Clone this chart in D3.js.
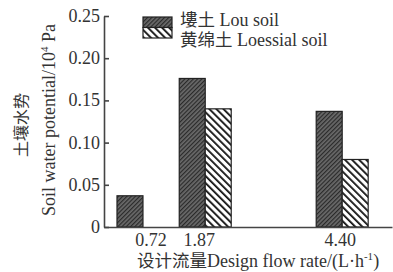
<!DOCTYPE html>
<html>
<head>
<meta charset="utf-8">
<script src="https://cdn.jsdelivr.net/npm/d3@7"></script>
<style>
  body { margin: 0; background: #fff; }
  svg { display: block; }
  text { font-family: "Liberation Serif", "Times New Roman", serif; fill: #333; }
  .cjk { font-family: "Noto Sans CJK SC", sans-serif; }
</style>
</head>
<body>
<svg id="chart" width="393" height="272"></svg>
<script>
// chart data
var flowRates = [0.72, 1.87, 4.40];
var flowLabels = ['0.72', '1.87', '4.40'];
var louSoil = [0.037, 0.176, 0.137];
var loessialSoil = [null, 0.140, 0.080];
var yTicks = [0, 0.05, 0.10, 0.15, 0.20, 0.25];
var yTickLabels = ['0', '0.05', '0.10', '0.15', '0.20', '0.25'];
var seriesNames = ['塿土', '黄绵土'];
var seriesNamesEn = ['Lou soil', 'Loessial soil'];

var svg = d3.select('#chart');
var axisColor = '#444';
var barW = 0.48; // bar width in flow units

var x = d3.scaleLinear().domain([0, 5.32]).range([104, 392]);
var y = d3.scaleLinear().domain([0, 0.25]).range([227, 16]);

// patterns
var defs = svg.append('defs');
var p1 = defs.append('pattern').attr('id', 'pLou')
  .attr('patternUnits', 'userSpaceOnUse').attr('width', 3).attr('height', 3)
  .attr('patternTransform', 'rotate(45)');
p1.append('rect').attr('width', 3).attr('height', 3).attr('fill', '#6a6a6a');
p1.append('rect').attr('width', 1.2).attr('height', 3).attr('fill', '#2a2a2a');
var p2 = defs.append('pattern').attr('id', 'pLoe')
  .attr('patternUnits', 'userSpaceOnUse').attr('width', 5).attr('height', 5)
  .attr('patternTransform', 'rotate(-45)');
p2.append('rect').attr('width', 5).attr('height', 5).attr('fill', '#fff');
p2.append('rect').attr('width', 1.8).attr('height', 5).attr('fill', '#111');

// bars
var bars = [];
flowRates.forEach(function(f, i) {
  bars.push({x0: f - barW, v: louSoil[i], fill: 'url(#pLou)'});
  if (loessialSoil[i] != null) bars.push({x0: f, v: loessialSoil[i], fill: 'url(#pLoe)'});
});
svg.append('g').selectAll('rect').data(bars).enter().append('rect')
  .attr('x', function(d) { return x(d.x0); })
  .attr('width', function(d) { return x(d.x0 + barW) - x(d.x0); })
  .attr('y', function(d) { return y(d.v); })
  .attr('height', function(d) { return y(0) - y(d.v); })
  .attr('fill', function(d) { return d.fill; })
  .attr('stroke', '#222').attr('stroke-width', 1.2);

// y axis, ticks pointing in
var yAxis = d3.axisRight(y).tickValues(yTicks).tickSize(5).tickSizeOuter(0).tickFormat('');
var gy = svg.append('g').attr('transform', 'translate(' + x(0) + ',0)').call(yAxis);
gy.selectAll('path, line').attr('stroke', axisColor).attr('stroke-width', 1.6);
svg.append('g').selectAll('text').data(yTicks).enter().append('text')
  .attr('x', x(0) - 4).attr('y', function(d) { return y(d) + 6; })
  .attr('text-anchor', 'end').attr('font-size', 18)
  .text(function(d, i) { return yTickLabels[i]; });

// x axis baseline, no ticks
var xAxis = d3.axisBottom(x).tickValues([]).tickSizeOuter(0);
var gx = svg.append('g').attr('transform', 'translate(0,' + y(0) + ')').call(xAxis);
gx.selectAll('path').attr('stroke', axisColor).attr('stroke-width', 1.6);
var labelShift = [8, -6, -2];
svg.append('g').selectAll('text').data(flowRates).enter().append('text')
  .attr('x', function(d, i) { return x(d) + labelShift[i]; }).attr('y', 246)
  .attr('text-anchor', 'middle').attr('font-size', 18)
  .text(function(d, i) { return flowLabels[i]; });

// axis titles
var xt = svg.append('text').attr('x', 137).attr('y', 267).attr('font-size', 18);
xt.append('tspan').attr('class', 'cjk').attr('font-size', 17.5).text('设计流量');
xt.append('tspan').text('Design flow rate/(L·h');
xt.append('tspan').attr('font-size', 11).attr('dy', -7).text('-1');
xt.append('tspan').attr('dy', 7).text(')');

svg.append('text').attr('class', 'cjk').attr('font-size', 16)
  .attr('transform', 'translate(27,125) rotate(-90)').attr('text-anchor', 'middle')
  .text('土壤水势');
var yt = svg.append('text').attr('font-size', 18)
  .attr('transform', 'translate(55,120) rotate(-90)').attr('text-anchor', 'middle');
yt.append('tspan').text('Soil water potential/10');
yt.append('tspan').attr('font-size', 11).attr('dy', -7).text('4');
yt.append('tspan').attr('dy', 7).text(' Pa');

// legend
var leg = svg.append('g').attr('transform', 'translate(143,17)');
['url(#pLou)', 'url(#pLoe)'].forEach(function(fill, i) {
  leg.append('rect').attr('x', 0).attr('y', i * 10.5).attr('width', 29).attr('height', 10.5)
    .attr('fill', fill).attr('stroke', '#222').attr('stroke-width', 1.2);
  var t = leg.append('text').attr('x', 37).attr('y', i * 20 + 9).attr('font-size', 18);
  t.append('tspan').attr('class', 'cjk').attr('font-size', 17.5).text(seriesNames[i]);
  t.append('tspan').text(' ' + seriesNamesEn[i]);
});
</script>
</body>
</html>
